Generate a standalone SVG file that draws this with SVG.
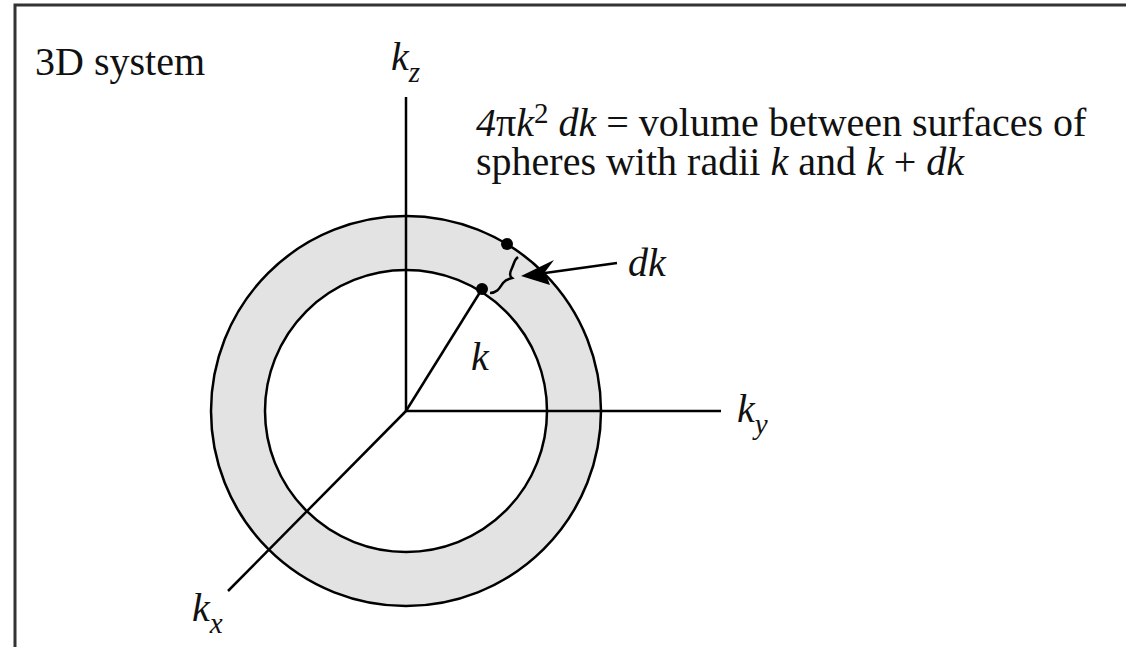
<svg xmlns="http://www.w3.org/2000/svg" width="1126" height="647" viewBox="0 0 1126 647">
<style>
.t{font-family:"Liberation Serif","Times New Roman",serif;font-size:40px;fill:#111}
.i{font-style:italic}
.ln{stroke:#000;stroke-width:2.5;fill:none}
</style>
<rect width="1126" height="647" fill="#fff"/>
<g id="frame"><path d="M15,647 V5 H1126" stroke="#333" stroke-width="3" fill="none"/></g>
<g id="shell">
<circle cx="406" cy="411" r="195" fill="#e3e3e3" stroke="#000" stroke-width="2.5"/>
<circle cx="406" cy="411" r="141" fill="#fff" stroke="#000" stroke-width="2.5"/>
</g>
<g id="connectors">
<line class="ln" x1="406" y1="411" x2="406" y2="97"/>
<line class="ln" x1="406" y1="411" x2="721" y2="411"/>
<line class="ln" x1="406" y1="411" x2="228" y2="591"/>
<line class="ln" x1="406" y1="411" x2="482" y2="289"/>
<line class="ln" x1="545" y1="273" x2="617" y2="263" stroke-width="2"/>
<path d="M521,276 L554,260 L545,272 L550,285 Z" fill="#000"/>
<path d="M490,293 C498,293 500,287 503,283 C506,279 509,279 512,278 C509,276 510,272 512,268 C514,264 514,260 518,257" class="ln" stroke-width="2.6"/>
</g>
<g id="dots">
<circle cx="482" cy="289" r="6" fill="#000"/>
<circle cx="507" cy="244" r="6" fill="#000"/>
</g>
<g id="labels">
<text class="t" x="35" y="75">3D system</text>
<text class="t i" x="391" y="70">k<tspan font-size="29" dy="12">z</tspan></text>
<text class="t" x="476" y="136"><tspan class="i">4</tspan>π<tspan class="i">k</tspan><tspan font-size="29" dy="-13">2</tspan><tspan dy="13"> </tspan><tspan class="i">dk</tspan> = volume between surfaces of</text>
<text class="t" x="476" y="175">spheres with radii <tspan class="i">k</tspan> and <tspan class="i">k</tspan> + <tspan class="i">dk</tspan></text>
<text class="t i" x="628" y="276">dk</text>
<text class="t i" x="471" y="370">k</text>
<text class="t i" x="737" y="422">k<tspan font-size="29" dy="12">y</tspan></text>
<text class="t i" x="192" y="621">k<tspan font-size="29" dy="12">x</tspan></text>
</g>
</svg>
